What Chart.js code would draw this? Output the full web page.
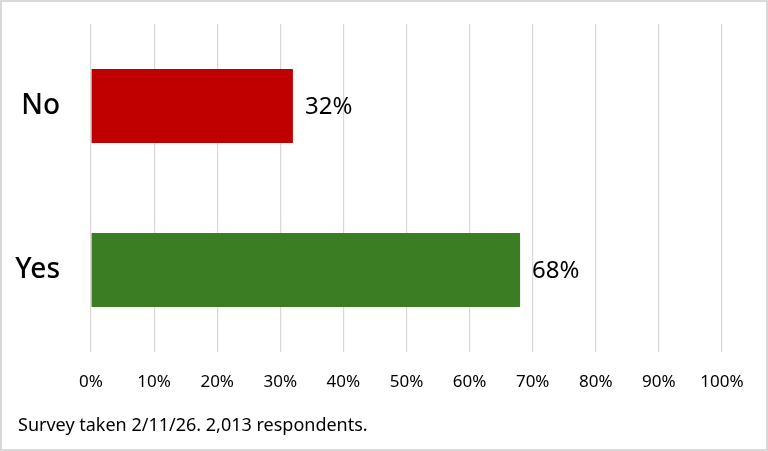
<!DOCTYPE html>
<html><head><meta charset="utf-8">
<script src="https://cdn.jsdelivr.net/npm/chart.js@4"></script>
<style>html,body{margin:0;padding:0;background:#fff}#wrap{width:768px;height:451px;position:relative}</style>
</head><body><div id="wrap"><canvas id="c" width="768" height="451"></canvas></div>
<script>
const categories = ["No", "Yes"];
const values = [32, 68];
const barColors = ["#C00000", "#3B7D23"];
const xTicks = [0,10,20,30,40,50,60,70,80,90,100];
const footerText = "Survey taken 2/11/26. 2,013 respondents.";
const FONT = "'Noto Sans', 'Open Sans', sans-serif";

const frame = {
  id: 'frame',
  beforeDraw(chart) {
    const ctx = chart.ctx;
    ctx.save();
    ctx.fillStyle = '#fff';
    ctx.fillRect(0, 0, chart.width, chart.height);
    ctx.restore();
  },
  afterDraw(chart) {
    const ctx = chart.ctx;
    ctx.save();
    ctx.strokeStyle = '#d9d9d9';
    ctx.lineWidth = 2;
    ctx.strokeRect(1, 1, chart.width - 2, chart.height - 2);
    ctx.fillStyle = '#000';
    ctx.font = "18px " + FONT;
    ctx.textBaseline = 'middle';
    ctx.textAlign = 'left';
    ctx.fillText(footerText, 18, 426);
    ctx.restore();
  }
};

const valueLabels = {
  id: 'valueLabels',
  afterDatasetsDraw(chart) {
    const ctx = chart.ctx;
    const meta = chart.getDatasetMeta(0);
    ctx.save();
    ctx.fillStyle = '#000';
    ctx.font = "24px " + FONT;
    ctx.textBaseline = 'middle';
    ctx.textAlign = 'left';
    meta.data.forEach((bar, i) => {
      ctx.fillText(values[i] + '%', bar.x + 12, bar.y + 1);
    });
    ctx.restore();
  }
};

new Chart(document.getElementById('c'), {
  type: 'bar',
  data: {
    labels: categories,
    datasets: [{
      data: values,
      backgroundColor: barColors,
      borderWidth: 0,
      categoryPercentage: 1,
      barPercentage: 0.45
    }]
  },
  plugins: [frame, valueLabels],
  options: {
    indexAxis: 'y',
    responsive: false,
    animation: false,
    devicePixelRatio: 1,
    layout: { padding: { top: 24, right: 46, left: 0, bottom: 0 } },
    plugins: { legend: { display: false }, tooltip: { enabled: false } },
    scales: {
      x: {
        min: 0, max: 100,
        afterBuildTicks(scale) { scale.ticks = xTicks.map(v => ({ value: v })); },
        afterFit(scale) { scale.height = 99; scale.paddingLeft = 0; scale.paddingRight = 0; },
        grid: { color: '#dcd6d6', lineWidth: 1.2, drawTicks: false },
        border: { display: false },
        ticks: {
          padding: 20,
          color: '#000',
          font: { family: FONT, size: 17 },
          callback: v => v + '%',
          maxRotation: 0, autoSkip: false
        }
      },
      y: {
        afterFit(scale) { scale.width = 91; scale.paddingTop = 0; scale.paddingBottom = 0; },
        grid: { display: false, drawTicks: false },
        border: { display: false },
        ticks: {
          padding: 31,
          color: '#000',
          font: { family: FONT, size: 28, weight: '500' }
        }
      }
    }
  }
});
</script></body></html>
